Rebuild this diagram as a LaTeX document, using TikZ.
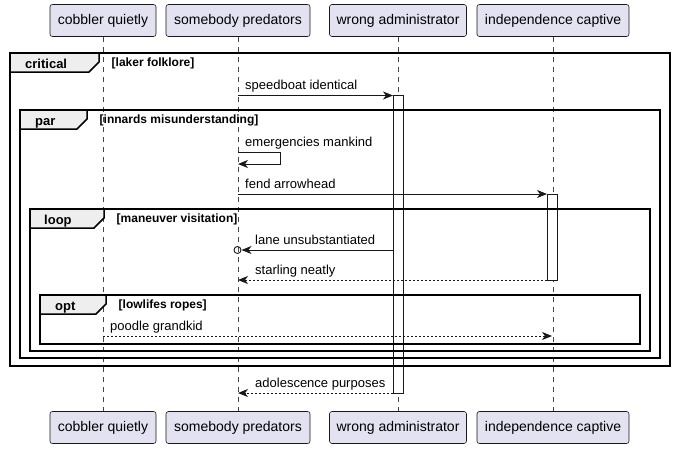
\documentclass[tikz,border=0pt]{standalone}
\usepackage{fontspec}
\setmainfont{Liberation Sans}
\usetikzlibrary{arrows.meta}
\definecolor{partfill}{HTML}{E2E2F0}
\definecolor{partline}{HTML}{181818}
\definecolor{tabfill}{HTML}{EEEEEE}
\begin{document}
\begin{tikzpicture}[x=1pt,y=-1pt,
  part/.style={draw=partline, fill=partfill, rounded corners=2.5pt, minimum height=32pt, inner sep=0pt, font=\fontsize{14}{16}\selectfont, line width=0.6pt},
  life/.style={draw=partline!80, dash pattern=on 5pt off 5pt, line width=0.6pt},
  act/.style={draw=partline, fill=white, line width=0.9pt},
  frm/.style={draw=black, line width=1.5pt},
  tabshape/.style={draw=black, fill=tabfill, line width=1.5pt},
  msg/.style={draw=partline, line width=0.9pt, -{Stealth[length=10pt,width=8pt,inset=3pt]}},
  ret/.style={msg, dash pattern=on 2pt off 2pt},
  lbl/.style={font=\fontsize{13}{15}\selectfont, anchor=base west, inner sep=0pt},
  ftitle/.style={font=\bfseries\fontsize{13}{15}\selectfont, anchor=base west, inner sep=0pt},
  fcond/.style={font=\bfseries\fontsize{12}{14}\selectfont, anchor=base west, inner sep=0pt},
]
\useasboundingbox (0,0) rectangle (674,448);

% participants
\node[part, minimum width=106pt] (cT) at (103,20.5) {cobbler quietly};
\node[part, minimum width=144pt] (sT) at (238,20.5) {somebody predators};
\node[part, minimum width=137pt] (wT) at (398,20.5) {wrong administrator};
\node[part, minimum width=152pt] (iT) at (553,20.5) {independence captive};
\node[part, minimum width=106pt] (cB) at (103,427.5) {cobbler quietly};
\node[part, minimum width=144pt] (sB) at (238,427.5) {somebody predators};
\node[part, minimum width=137pt] (wB) at (398,427.5) {wrong administrator};
\node[part, minimum width=152pt] (iB) at (553,427.5) {independence captive};

% lifelines
\draw[life] (cT.south) -- (cB.north);
\draw[life] (sT.south) -- (sB.north);
\draw[life] (wT.south) -- (wB.north);
\draw[life] (iT.south) -- (iB.north);

% activations
\draw[act] (393,95.5) rectangle (403,393);
\draw[act] (547,194) rectangle (557,280);

% frames
\draw[frm] (10,53) rectangle (670,366);
\draw[tabshape] (10,53) -- (99,53) -- (99,62) -- (89,72) -- (10,72) -- cycle;
\node[ftitle] at (25,68) {critical};
\node[fcond] at (111.5,66.5) {[laker folklore]};

\draw[frm] (20,110) rectangle (660,358);
\draw[tabshape] (20,110) -- (87,110) -- (87,119) -- (77,129) -- (20,129) -- cycle;
\node[ftitle] at (35,125) {par};
\node[fcond] at (99.5,123.5) {[innards misunderstanding]};

\draw[frm] (30,209) rectangle (650,351);
\draw[tabshape] (30,209) -- (104,209) -- (104,218) -- (94,228) -- (30,228) -- cycle;
\node[ftitle] at (44,224) {loop};
\node[fcond] at (116.5,222.5) {[maneuver visitation]};

\draw[frm] (40,295) rectangle (640,344);
\draw[tabshape] (40,295) -- (106,295) -- (106,304) -- (96,314) -- (40,314) -- cycle;
\node[ftitle] at (55,310) {opt};
\node[fcond] at (118.5,308.5) {[lowlifes ropes]};

% message endpoints
\coordinate (m1a) at (238,95.5);  \coordinate (m1b) at (393,95.5);
\coordinate (m2a) at (238,152);   \coordinate (m2c) at (280,152);
\coordinate (m2d) at (280,164);   \coordinate (m2b) at (238,164);
\coordinate (m3a) at (238,194);   \coordinate (m3b) at (547,194);
\coordinate (m4a) at (393,250);   \coordinate (m4b) at (241.5,250);
\coordinate (m4o) at (237.5,250);
\coordinate (m5a) at (547,280);   \coordinate (m5b) at (238,280);
\coordinate (m6a) at (103,336);   \coordinate (m6b) at (552,336);
\coordinate (m7a) at (393,393);   \coordinate (m7b) at (238,393);

% messages
\draw[msg] (m1a) -- (m1b);
\node[lbl] at (245,89.5) {speedboat identical};
\draw[msg] (m2a) -- (m2c) -- (m2d) -- (m2b);
\node[lbl] at (245,146) {emergencies mankind};
\draw[msg] (m3a) -- (m3b);
\node[lbl] at (245,188) {fend arrowhead};
\draw[msg] (m4a) -- (m4b);
\draw[partline, line width=0.9pt] (m4o) circle (3.5pt);
\node[lbl] at (255,244) {lane unsubstantiated};
\draw[ret] (m5a) -- (m5b);
\node[lbl] at (255,274) {starling neatly};
\draw[ret] (m6a) -- (m6b);
\node[lbl] at (110,330) {poodle grandkid};
\draw[ret] (m7a) -- (m7b);
\node[lbl] at (255,387) {adolescence purposes};
\end{tikzpicture}
\end{document}
